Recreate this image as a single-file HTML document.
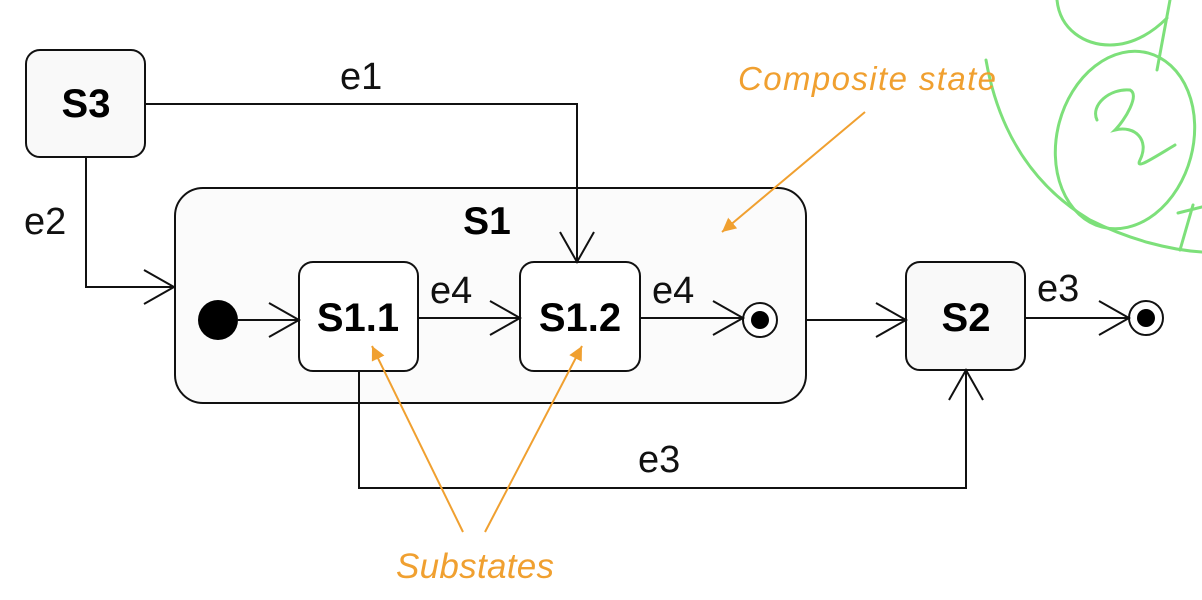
<!DOCTYPE html>
<html><head><style>
body{margin:0;background:#fff;}
svg{display:block;}
text{font-family:"Liberation Sans",Arial,sans-serif;}
</style></head><body>
<svg width="1202" height="600" viewBox="0 0 1202 600">
<defs>
<marker id="a" markerWidth="36" markerHeight="40" refX="32" refY="18" orient="auto" markerUnits="userSpaceOnUse">
<path d="M2,1 L32,18 L2,35" fill="none" stroke="#111" stroke-width="2"/>
</marker>
<marker id="o" markerWidth="16" markerHeight="16" refX="14" refY="7" orient="auto" markerUnits="userSpaceOnUse">
<path d="M0,0 L14,7 L0,14 Z" fill="#f0a030"/>
</marker>
</defs>
<g fill="none" stroke="#7de07a" stroke-width="3" stroke-linecap="round">
<path d="M1057,0 C1060,30 1085,45 1110,45 C1135,45 1155,30 1167,18"/>
<path d="M1170,0 L1157,70"/>
<ellipse cx="1125" cy="140" rx="68" ry="90" transform="rotate(15 1125 140)"/>
<path d="M986,60 C1000,140 1040,190 1090,220 C1130,240 1170,250 1202,252"/>
<path d="M1193,205 L1180,250"/>
<path d="M1178,213 L1202,207"/>
<path d="M1097,120 C1090,105 1110,88 1130,90 C1140,95 1125,120 1115,130 C1135,125 1150,140 1140,160 C1135,170 1150,160 1175,145"/>
</g>
<rect x="175" y="188" width="631" height="215" rx="28" fill="#fbfbfb" stroke="#111" stroke-width="2"/>
<text x="487" y="234" font-size="39" font-weight="bold" text-anchor="middle">S1</text>
<rect x="26" y="50" width="119" height="107" rx="14" fill="#f9f9f9" stroke="#111" stroke-width="2"/>
<text x="86" y="117" font-size="40" font-weight="bold" text-anchor="middle">S3</text>
<rect x="299" y="262" width="119" height="109" rx="14" fill="#fff" stroke="#111" stroke-width="2"/>
<text x="358" y="331" font-size="40" font-weight="bold" text-anchor="middle">S1.1</text>
<rect x="520" y="262" width="120" height="109" rx="14" fill="#fff" stroke="#111" stroke-width="2"/>
<text x="580" y="331" font-size="40" font-weight="bold" text-anchor="middle">S1.2</text>
<rect x="906" y="262" width="119" height="108" rx="14" fill="#f9f9f9" stroke="#111" stroke-width="2"/>
<text x="966" y="331" font-size="40" font-weight="bold" text-anchor="middle">S2</text>
<circle cx="218" cy="320" r="20" fill="#000"/>
<circle cx="760" cy="320" r="17" fill="#fff" stroke="#111" stroke-width="2"/>
<circle cx="760" cy="320" r="9" fill="#000"/>
<circle cx="1146" cy="318" r="17" fill="#fff" stroke="#111" stroke-width="2"/>
<circle cx="1146" cy="318" r="9" fill="#000"/>
<g fill="none" stroke="#111" stroke-width="2">
<path d="M145,104 L577,104 L577,262" marker-end="url(#a)"/>
<path d="M86,157 L86,287 L174,287" marker-end="url(#a)"/>
<path d="M238,320 L299,320" marker-end="url(#a)"/>
<path d="M418,318 L520,318" marker-end="url(#a)"/>
<path d="M640,318 L743,318" marker-end="url(#a)"/>
<path d="M806,320 L906,320" marker-end="url(#a)"/>
<path d="M1025,318 L1129,318" marker-end="url(#a)"/>
<path d="M359,371 L359,488 L966,488 L966,370" marker-end="url(#a)"/>
</g>
<g font-size="38" fill="#111">
<text x="340" y="89">e1</text>
<text x="24" y="234">e2</text>
<text x="430" y="303">e4</text>
<text x="652" y="303">e4</text>
<text x="1037" y="301">e3</text>
<text x="638" y="472">e3</text>
</g>
<g stroke="#f0a030" stroke-width="2" fill="none">
<path d="M865,112 L722,232" marker-end="url(#o)"/>
<path d="M463,532 L372,346" marker-end="url(#o)"/>
<path d="M485,532 L582,346" marker-end="url(#o)"/>
</g>
<text x="738" y="90" font-size="33" font-style="italic" fill="#f0a030" textLength="258">Composite state</text>
<text x="396" y="578" font-size="35" font-style="italic" fill="#f0a030" textLength="158">Substates</text>
</svg>
</body></html>
